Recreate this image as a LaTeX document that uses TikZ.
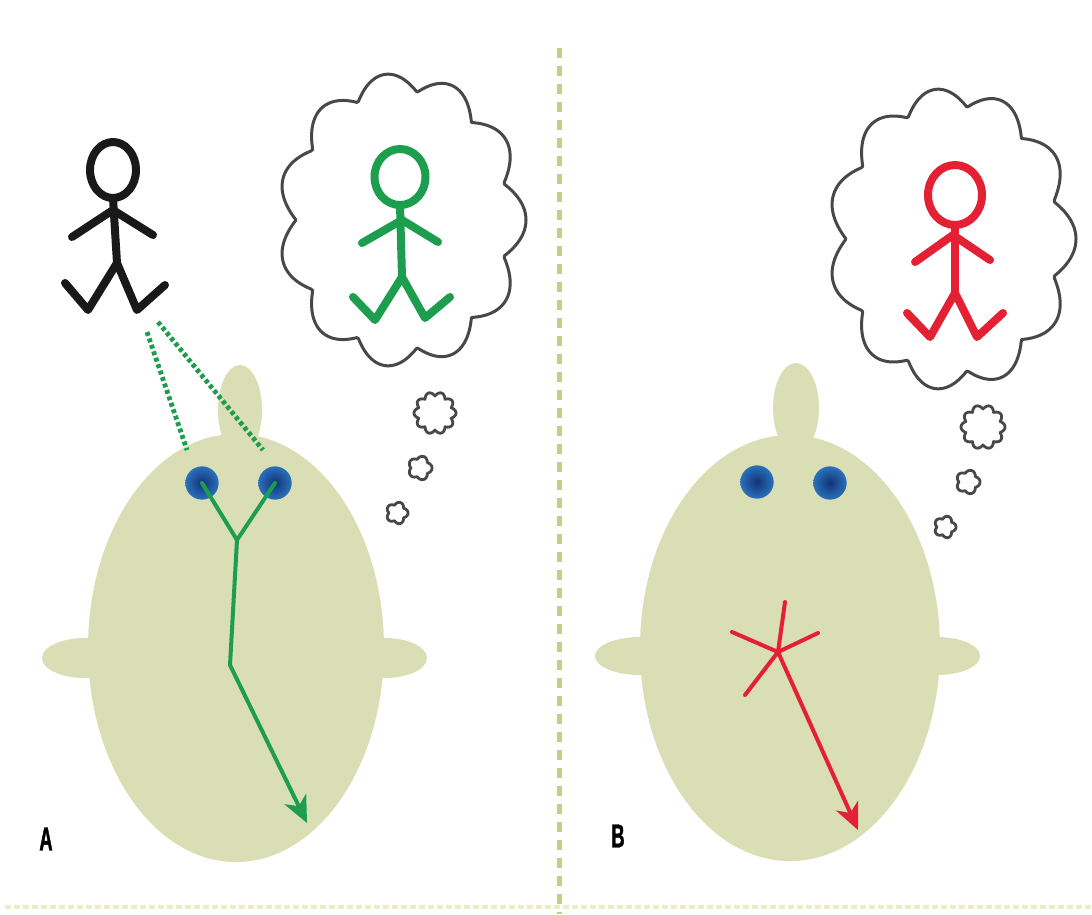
\documentclass[tikz,border=0pt]{standalone}
\usepackage{fontspec}
\newfontfamily\labfont[FakeStretch=0.55,FakeBold=1.2]{Liberation Sans}
\usetikzlibrary{arrows.meta}

\definecolor{headfill}{RGB}{218,222,180}
\definecolor{figgreen}{RGB}{28,158,78}
\definecolor{figred}{RGB}{228,32,52}
\definecolor{figblack}{RGB}{25,25,25}
\definecolor{cloudgray}{RGB}{72,72,72}
\definecolor{eyeblue}{RGB}{42,112,188}
\definecolor{eyedark}{RGB}{18,52,118}
\definecolor{divcol}{RGB}{196,206,132}
\definecolor{basecol}{RGB}{238,236,196}

% wavy thought cloud: centre x, centre y, x radius, y radius, bump height, bumps, style
\newcommand\thoughtcloud[7]{%
  \draw[#7] plot[domain=0:359,samples=360,variable=\t]
    ({#1+(#3+#5*abs(cos(#6*\t/2)))*cos(\t)},{#2+(#4+#5*abs(cos(#6*\t/2)))*sin(\t)}) -- cycle;}

\begin{document}
\begin{tikzpicture}[x=0.75pt,y=-0.75pt,
  figline/.style={line width=6pt,line cap=round,line join=round},
  cloudline/.style={draw=cloudgray,line width=2.25pt,line join=round,fill=white},
  puffline/.style={draw=cloudgray,line width=2.1pt,line join=round,fill=white},
  nerve/.style={line width=3pt,line cap=round,line join=round},
  nervetip/.style={-{Stealth[length=20pt,width=18pt,inset=6pt]}},
  gaze/.style={draw=figgreen,line width=3.6pt,dash pattern=on 3pt off 2.1pt},
  divider/.style={draw=divcol,line width=3.75pt,dash pattern=on 7.5pt off 6pt},
  baseline rule/.style={draw=basecol,line width=3pt,dash pattern=on 4.5pt off 2.25pt},
  eye/.style={circle,minimum size=25pt,inner sep=0pt,shading=radial,inner color=eyedark,outer color=eyeblue},
  lab/.style={font={\labfont\bfseries\fontsize{25pt}{25pt}\selectfont},text=black,inner sep=0pt}
]
\useasboundingbox (0,0) rectangle (1092,914);
\fill[white] (0,0) rectangle (1092,914);

% separators
\draw[divider] (559,48) -- (559,914);
\draw[baseline rule] (5,907) -- (1092,907);

% ---------- panel A ----------
% head, ears and nose
\fill[headfill] (85,658) ellipse [x radius=43,y radius=20];
\fill[headfill] (385,658) ellipse [x radius=42,y radius=20];
\fill[headfill] (240,410) ellipse [x radius=22,y radius=45];
\fill[headfill] (236,648) ellipse [x radius=148,y radius=214];

% real person seen
\draw[figline,draw=figblack] (113,170) ellipse [x radius=23,y radius=28];
\draw[figline,draw=figblack] (113,198) -- (117,263);
\draw[figline,draw=figblack] (72,237) -- (113,210) -- (153,235);
\draw[figline,draw=figblack] (65,283) -- (88,310) -- (117,263) -- (137,310) -- (165,285);
\coordinate (gazeL) at (147,332);
\coordinate (gazeR) at (158,322);

% eyes
\node[eye] (eyeAL) at (202,483) {};
\node[eye] (eyeAR) at (275,483) {};
\coordinate (eyeTopAL) at (187,450);
\coordinate (eyeTopAR) at (263,450);
\draw[gaze] (gazeL) -- (eyeTopAL);
\draw[gaze] (gazeR) -- (eyeTopAR);

% visual pathway
\coordinate (jA) at (237,540);
\coordinate (bendA) at (230,665);
\coordinate (tipA) at (307,823);
\draw[nerve,draw=figgreen] (eyeAL.center) -- (jA) -- (eyeAR.center);
\draw[nerve,nervetip,draw=figgreen] (jA) -- (bendA) -- (tipA);

% thought
\thoughtcloud{402}{220}{106}{129}{18}{11}{cloudline}
\thoughtcloud{435}{413}{17}{17}{4}{10}{puffline}
\thoughtcloud{420}{468}{9}{9}{3}{5}{puffline}
\thoughtcloud{397}{513}{8}{8}{3}{5}{puffline}
\draw[figline,draw=figgreen] (400,177) ellipse [x radius=25.5,y radius=28];
\draw[figline,draw=figgreen] (400,205) -- (402,277);
\draw[figline,draw=figgreen] (362,243) -- (402,220) -- (438,242);
\draw[figline,draw=figgreen] (353,297) -- (375,320) -- (402,277) -- (425,318) -- (450,297);

\node[lab] (labA) at (46,839) {A};

% ---------- panel B ----------
\fill[headfill] (640,656) ellipse [x radius=45,y radius=19];
\fill[headfill] (937,656) ellipse [x radius=43,y radius=19];
\fill[headfill] (796,408) ellipse [x radius=23,y radius=45];
\fill[headfill] (790,648) ellipse [x radius=150,y radius=213];

\node[eye] (eyeBL) at (757,482) {};
\node[eye] (eyeBR) at (830,483) {};

% scattered pathway
\coordinate (hubB) at (778,652);
\coordinate (rayUp) at (785,602);
\coordinate (rayL) at (732,632);
\coordinate (rayR) at (818,633);
\coordinate (rayLL) at (745,695);
\coordinate (tipB) at (858,830);
\draw[nerve,draw=figred] (rayUp) -- (hubB);
\draw[nerve,draw=figred] (rayL) -- (hubB) -- (rayR);
\draw[nerve,draw=figred] (rayLL) -- (hubB);
\draw[nerve,nervetip,draw=figred] (hubB) -- (tipB);

% thought
\thoughtcloud{952}{239}{106}{133}{18}{11}{cloudline}
\thoughtcloud{983}{427}{18}{18}{4}{10}{puffline}
\thoughtcloud{968}{482}{9}{9}{3}{5}{puffline}
\thoughtcloud{945}{527}{8}{8}{3}{5}{puffline}
\draw[figline,draw=figred] (955,195) ellipse [x radius=27,y radius=30];
\draw[figline,draw=figred] (955,225) -- (955,293);
\draw[figline,draw=figred] (915,262) -- (953,235) -- (990,260);
\draw[figline,draw=figred] (907,313) -- (930,337) -- (955,293) -- (977,337) -- (1003,313);

\node[lab] (labB) at (618,836) {B};
\end{tikzpicture}
\end{document}
